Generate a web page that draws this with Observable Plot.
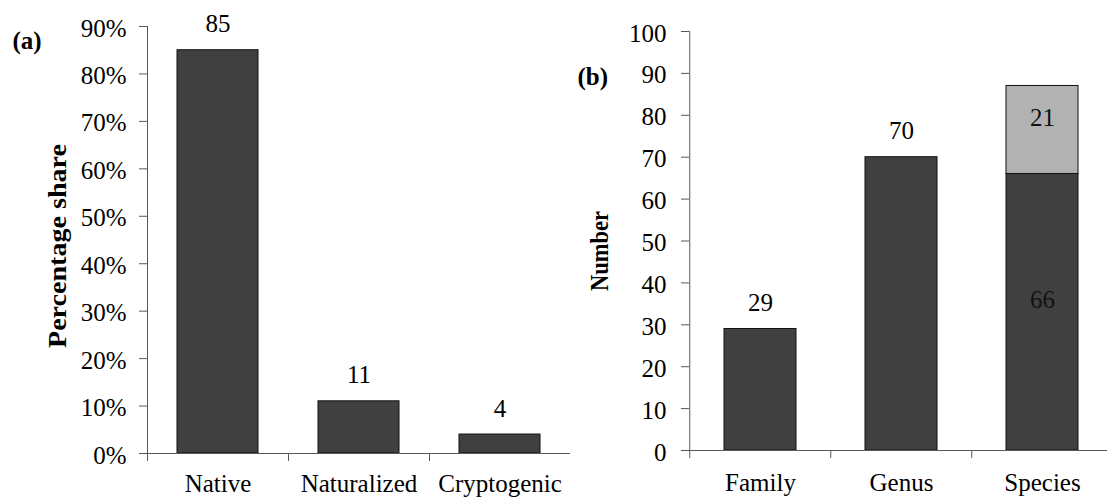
<!DOCTYPE html>
<html>
<head>
<meta charset="utf-8">
<script src="https://cdn.jsdelivr.net/npm/d3@7"></script>
<script src="https://cdn.jsdelivr.net/npm/@observablehq/plot@0.6"></script>
<style>
  html, body { margin: 0; padding: 0; background: #fff; overflow: hidden; }
  #figure { position: relative; width: 1107px; height: 497px; }
  #figure > svg { position: absolute; top: 0; }
</style>
</head>
<body>
<div id="figure"></div>
<script>
// (a) origin of the flora, percentage share
const origins = ["Native", "Naturalized", "Cryptogenic"];
const originShares = [85, 11, 4];
const shareTicks = [0, 10, 20, 30, 40, 50, 60, 70, 80, 90];

// (b) number of taxa per rank; the species bar is split into two parts
const ranks = ["Family", "Genus", "Species"];
const lowerCounts = [29, 70, 66];
const upperCounts = [0, 0, 21];
const countTicks = [0, 10, 20, 30, 40, 50, 60, 70, 80, 90, 100];

const H = 497;
const serif = "'Liberation Serif', serif";
const dark = "#404040";
const light = "#b2b2b2";
const axisColor = "#595959";
const baseStyle = {fontFamily: serif, fontSize: "25px"};

// ---------- panel (a) ----------
const aWidth = 570, aLeft = 147;
const aStep = (aWidth - aLeft) / origins.length;
const shareRows = origins.map((origin, i) => ({origin, share: originShares[i]}));

const panelA = Plot.plot({
  width: aWidth,
  height: H,
  marginLeft: aLeft,
  marginRight: 0,
  marginTop: 26,
  marginBottom: 44,
  style: baseStyle,
  x: {domain: origins, paddingInner: 0.426, paddingOuter: 0.213},
  y: {domain: [0, 90]},
  marks: [
    Plot.barY(shareRows, {x: "origin", y: "share", fill: dark, stroke: "#111", strokeWidth: 1}),
    Plot.text(shareRows, {x: "origin", y: "share", text: d => String(d.share), lineAnchor: "bottom", dy: -18}),
    Plot.ruleY([0], {stroke: axisColor}),
    Plot.ruleX([origins[0]], {y1: 0, y2: 90, dx: -aStep / 2, stroke: axisColor}),
    Plot.axisY({ticks: shareTicks, tickSize: 8, tickFormat: () => "", stroke: axisColor, label: null}),
    Plot.axisY({ticks: shareTicks, tickSize: 0, tickPadding: 21, tickFormat: d => d + "%", dy: 2, label: null}),
    Plot.axisX({tickSize: 8, tickFormat: () => "", dx: -aStep / 2, stroke: axisColor, label: null}),
    Plot.axisX({tickSize: 0, tickPadding: 21, label: null}),
    Plot.text(["Percentage share"], {frameAnchor: "left", text: d => d, rotate: -90, textAnchor: "middle", lineAnchor: "middle", dx: -90, dy: 6, fontWeight: "bold"}),
    Plot.text(["(a)"], {frameAnchor: "top-left", text: d => d, textAnchor: "start", lineAnchor: "bottom", dx: -135, dy: 22, fontWeight: "bold"})
  ]
});

// ---------- panel (b) ----------
const bOffset = 560, bWidth = 547, bLeft = 129;
const bRange = [bLeft, bLeft + 3 * 141.5];
const bStep = (bRange[1] - bRange[0]) / ranks.length;

const countRows = [];
ranks.forEach((rank, i) => {
  countRows.push({rank, part: "lower", count: lowerCounts[i], split: upperCounts[i] > 0});
  if (upperCounts[i] > 0) countRows.push({rank, part: "upper", count: upperCounts[i], split: true});
});
const wholeRows = countRows.filter(d => !d.split);
const splitRows = countRows.filter(d => d.split);

const panelB = Plot.plot({
  width: bWidth,
  height: H,
  marginLeft: bLeft,
  marginRight: 0,
  marginTop: 31,
  marginBottom: 47,
  style: baseStyle,
  x: {domain: ranks, range: bRange, paddingInner: 0.488, paddingOuter: 0.244},
  y: {domain: [0, 100]},
  color: {domain: ["lower", "upper"], range: [dark, light]},
  marks: [
    Plot.barY(countRows, {x: "rank", y: "count", fill: "part", stroke: "#111", strokeWidth: 1}),
    Plot.text(wholeRows, {x: "rank", y: "count", text: d => String(d.count), lineAnchor: "bottom", dy: -18}),
    Plot.text(splitRows, Plot.stackY({x: "rank", y: "count", text: d => String(d.count), lineAnchor: "middle", dy: -12, fill: "#111"})),
    Plot.ruleY([0], {stroke: axisColor}),
    Plot.ruleX([ranks[0]], {y1: 0, y2: 100, dx: -bStep / 2, stroke: axisColor}),
    Plot.axisY({ticks: countTicks, tickSize: 8, tickFormat: () => "", stroke: axisColor, label: null}),
    Plot.axisY({ticks: countTicks, tickSize: 0, tickPadding: 23, dy: 2, label: null}),
    Plot.axisX({tickSize: 8, tickFormat: () => "", dx: -bStep / 2, stroke: axisColor, label: null}),
    Plot.axisX({tickSize: 0, tickPadding: 23, label: null}),
    Plot.text(["Number"], {frameAnchor: "left", text: d => d, rotate: -90, textAnchor: "middle", lineAnchor: "middle", dx: -90, dy: 10, fontWeight: "bold"}),
    Plot.text(["(b)"], {frameAnchor: "top-left", text: d => d, textAnchor: "start", lineAnchor: "bottom", dx: -112, dy: 53, fontWeight: "bold"})
  ]
});

// the two vertical axis titles are set to fixed run lengths
function fitTitle(svg, label, length) {
  for (const t of svg.querySelectorAll("text")) {
    if (t.textContent === label) {
      t.setAttribute("textLength", length);
      t.setAttribute("lengthAdjust", "spacingAndGlyphs");
    }
  }
}
fitTitle(panelA, "Percentage share", 204);
fitTitle(panelB, "Number", 80);

panelA.style.left = "0px";
panelB.style.left = bOffset + "px";
const figure = document.getElementById("figure");
figure.appendChild(panelA);
figure.appendChild(panelB);
</script>
</body>
</html>
